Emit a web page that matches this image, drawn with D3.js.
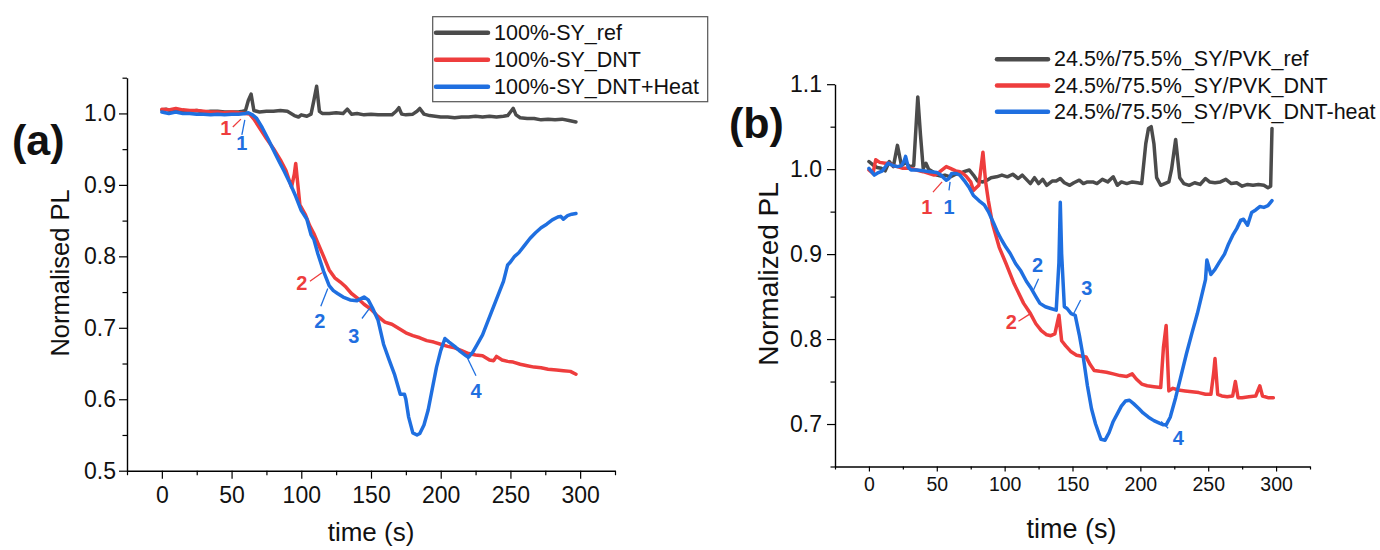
<!DOCTYPE html>
<html><head><meta charset="utf-8">
<script src="https://cdn.jsdelivr.net/npm/d3@7"></script>
<style>
body{margin:0;background:#fff;}
svg{display:block;}
text{font-family:"Liberation Sans",Arial,Helvetica,sans-serif;}
</style>
</head><body>
<svg id="c" width="1380" height="550"></svg>
<script>
// ---------- DATA: panel (a) ----------
const timeA_ref = [0,3,6,10,15,20,25,30,35,40,45,50,55,58,60,62,64,66,70,75,80,85,90,95,98,100,104,107,109,111,113,115,120,125,130,133,136,140,145,150,155,160,165,168,170,172,175,180,183,185,188,192,196,200,205,210,215,220,225,230,235,240,245,248,250,252,254,257,262,267,272,277,282,287,292,297];
const valA_ref  = [1.005,1.006,1.004,1.004,1.003,1.003,1.004,1.002,1.003,1.003,1.002,1.002,1.002,1.003,1.004,1.018,1.027,1.004,1.002,1.003,1.003,1.004,1.003,0.997,0.995,0.998,0.996,0.999,1.018,1.038,1.003,1.0,1.0,1.001,1.0,1.006,0.999,1.0,0.998,0.999,0.998,0.998,0.998,1.003,1.008,0.999,0.998,0.999,1.003,1.007,0.999,0.997,0.996,0.995,0.995,0.994,0.995,0.995,0.996,0.995,0.996,0.995,0.996,0.997,1.002,1.007,0.998,0.994,0.993,0.993,0.991,0.992,0.991,0.992,0.990,0.988];

const timeA_dnt = [0,5,10,15,20,25,30,35,40,45,50,55,60,63,66,70,75,80,85,89,93,95,96,99,103,106,109,112,116,120,124,128,132,136,140,145,150,155,160,165,170,175,180,185,190,195,200,205,210,215,220,225,230,235,238,240,244,248,252,257,262,267,272,277,283,288,293,297];
const valA_dnt  = [1.006,1.005,1.007,1.005,1.004,1.004,1.003,1.002,1.002,1.001,1.002,1.001,1.0,0.999,0.992,0.980,0.965,0.951,0.935,0.920,0.897,0.915,0.930,0.872,0.858,0.843,0.832,0.818,0.800,0.781,0.770,0.764,0.757,0.748,0.742,0.733,0.726,0.716,0.708,0.705,0.699,0.693,0.689,0.686,0.682,0.680,0.677,0.674,0.672,0.668,0.664,0.662,0.661,0.655,0.654,0.660,0.655,0.653,0.652,0.649,0.647,0.645,0.644,0.642,0.641,0.640,0.639,0.635];

const timeA_heat = [0,5,10,15,20,25,30,35,40,45,50,55,60,62,65,68,72,76,80,84,88,92,96,100,104,107,109,112,116,120,123,126,130,135,140,145,148,151,155,159,163,167,171,174,175,177,180,183,185,188,191,194,197,200,203,206,210,214,218,220,223,226,230,233,237,241,245,248,250,253,256,260,264,268,272,276,280,284,286,288,291,294,297];
const valA_heat  = [1.002,1.0,1.002,1.0,1.0,0.999,0.999,0.998,0.999,0.998,0.999,0.999,1.0,1.001,0.998,0.993,0.980,0.965,0.949,0.933,0.918,0.902,0.884,0.864,0.852,0.830,0.824,0.803,0.779,0.759,0.752,0.748,0.743,0.739,0.738,0.743,0.739,0.728,0.711,0.677,0.655,0.634,0.607,0.607,0.600,0.575,0.553,0.550,0.552,0.564,0.585,0.615,0.645,0.668,0.685,0.680,0.674,0.667,0.661,0.659,0.666,0.676,0.690,0.705,0.725,0.745,0.765,0.788,0.792,0.800,0.805,0.815,0.825,0.833,0.840,0.845,0.851,0.855,0.856,0.852,0.857,0.859,0.860];

// ---------- DATA: panel (b) ----------
const timeB_ref = [0,3,6,9,12,15,18,21,24,27,30,33,36,38,40,42,44,47,50,53,56,60,64,67,70,74,77,80,84,87,90,94,98,102,106,110,113,116,119,122,125,128,131,135,138,141,144,148,151,155,158,161,165,168,172,176,180,183,186,190,194,198,201,204,206,208,210,212,215,218,221,223,226,229,232,236,240,244,248,251,255,259,263,267,271,275,279,283,287,291,294,296,297];
const valB_ref  = [1.009,1.005,1.002,1.001,0.998,1.009,1.003,1.028,1.004,1.008,1.003,1.004,1.085,1.040,1.001,1.007,1.000,0.997,0.993,0.992,0.993,0.991,0.994,0.995,0.997,0.999,0.993,0.986,0.985,0.987,0.990,0.991,0.993,0.991,0.994,0.989,0.993,0.988,0.983,0.990,0.983,0.988,0.981,0.986,0.986,0.989,0.984,0.981,0.984,0.987,0.983,0.985,0.985,0.983,0.988,0.985,0.991,0.981,0.985,0.983,0.985,0.984,0.983,1.030,1.048,1.050,1.030,0.990,0.981,0.983,0.985,1.000,1.035,0.990,0.983,0.981,0.984,0.982,0.989,0.985,0.984,0.985,0.988,0.983,0.984,0.980,0.982,0.981,0.982,0.981,0.978,0.980,1.048];

const timeB_dnt = [0,3,5,8,12,15,18,21,25,30,35,40,44,48,50,53,57,60,64,67,70,72,75,77,79,81,84,86,88,91,96,101,107,114,119,123,127,131,134,137,140,142,145,149,153,156,160,163,166,170,175,180,185,190,194,197,201,205,210,215,217,219,221,224,228,233,238,243,248,252,254,255,257,260,264,268,270,272,275,280,285,288,290,294,298];
const valB_dnt  = [0.999,0.995,1.011,1.008,1.007,1.007,1.004,1.003,1.001,1.001,0.999,0.997,0.995,0.993,0.994,0.998,1.003,1.001,0.998,0.997,0.994,0.991,0.985,0.975,0.978,0.981,1.020,0.985,0.963,0.936,0.908,0.889,0.865,0.842,0.830,0.818,0.810,0.805,0.804,0.806,0.828,0.798,0.792,0.785,0.781,0.780,0.779,0.770,0.763,0.762,0.761,0.759,0.757,0.756,0.759,0.753,0.747,0.745,0.744,0.743,0.790,0.816,0.739,0.742,0.740,0.739,0.738,0.737,0.735,0.735,0.760,0.777,0.735,0.733,0.732,0.733,0.750,0.731,0.731,0.732,0.733,0.745,0.733,0.731,0.731];

const timeB_heat = [0,2,4,7,10,14,18,21,24,26,27,29,31,35,40,45,50,53,57,59,61,64,67,71,74,77,81,85,88,92,95,98,101,104,108,112,116,119,123,126,130,134,138,140,141,142,144,146,149,152,155,158,161,164,167,171,174,177,180,183,186,189,192,195,199,202,206,210,214,217,219,222,226,230,234,238,242,245,248,249,252,255,258,262,265,268,271,274,276,279,282,285,288,291,294,297];
const valB_heat  = [1.001,0.997,0.993,0.996,0.998,1.007,1.004,1.003,1.004,1.010,1.015,1.002,0.999,0.999,0.998,0.997,0.996,0.993,0.987,0.989,0.995,0.995,0.993,0.985,0.978,0.969,0.963,0.958,0.950,0.936,0.925,0.916,0.908,0.901,0.889,0.880,0.868,0.861,0.850,0.842,0.838,0.836,0.834,0.890,0.961,0.900,0.838,0.836,0.830,0.828,0.805,0.778,0.745,0.718,0.700,0.682,0.681,0.690,0.703,0.712,0.721,0.727,0.728,0.724,0.718,0.713,0.708,0.704,0.701,0.699,0.699,0.708,0.731,0.757,0.783,0.807,0.830,0.850,0.870,0.893,0.876,0.882,0.890,0.900,0.912,0.922,0.930,0.940,0.941,0.934,0.949,0.952,0.956,0.955,0.957,0.963];

// ---------- ticks & labels ----------
const xTicks = [0,50,100,150,200,250,300];
const xMinor = [-25,25,75,125,175,225,275,325];
const yTicksA = [0.5,0.6,0.7,0.8,0.9,1.0];
const yMinorA = [0.55,0.65,0.75,0.85,0.95,1.05];
const yTicksB = [0.7,0.8,0.9,1.0,1.1];
const yMinorB = [0.65,0.75,0.85,0.95,1.05];
const legendA = ["100%-SY_ref","100%-SY_DNT","100%-SY_DNT+Heat"];
const legendB = ["24.5%/75.5%_SY/PVK_ref","24.5%/75.5%_SY/PVK_DNT","24.5%/75.5%_SY/PVK_DNT-heat"];

// annotation labels: [text, seriesIndex, labelT, labelV, lineT1, lineV1, lineT2, lineV2]
const notesA = [
  ["1",1,45.9,0.979,50.9,0.981,56.7,0.992],
  ["1",2,57.4,0.958,57.4,0.970,59.5,0.991],
  ["2",1,100.4,0.762,106.2,0.765,114.8,0.777],
  ["2",2,113.3,0.710,114.0,0.730,119.0,0.755],
  ["3",2,137.7,0.689,143.5,0.713,149.2,0.728],
  ["4",2,225.3,0.611,225.3,0.633,218.8,0.659]
];
const notesB = [
  ["1",1,42.7,0.956,47.2,0.973,53.9,0.985],
  ["1",2,59.0,0.956,59.0,0.975,59.8,0.985],
  ["2",2,124.2,0.887,125.0,0.871,120.5,0.855],
  ["2",1,105.0,0.820,110.2,0.821,119.0,0.830],
  ["3",2,160.5,0.860,156.0,0.846,150.9,0.830],
  ["4",2,228.0,0.684,220.5,0.695,215.3,0.703]
];

const colors = ["#4b4b4b","#ee3d3d","#1f6fe0"];
const svg = d3.select("#c");

function drawPanel(cfg){
  const x = d3.scaleLinear().domain([-25,325]).range([cfg.x0,cfg.x1]);
  const y = d3.scaleLinear().domain(cfg.yDomain).range([cfg.y1,cfg.y0]);
  const g = svg.append("g");

  // minor ticks
  g.append("g").attr("transform",`translate(0,${cfg.y1})`)
    .call(d3.axisBottom(x).tickValues(xMinor).tickSize(cfg.xMinorLen).tickFormat(""))
    .call(a=>a.select(".domain").remove());
  g.append("g").attr("transform",`translate(${cfg.x0},0)`)
    .call(d3.axisLeft(y).tickValues(cfg.yMinor).tickSize(4.5).tickFormat(""))
    .call(a=>a.select(".domain").remove());

  const xa = g.append("g").attr("transform",`translate(0,${cfg.y1})`)
    .call(d3.axisBottom(x).tickValues(xTicks).tickSize(cfg.xMajorLen).tickPadding(cfg.xPad).tickSizeOuter(0).tickFormat(d3.format("d")));
  xa.selectAll("text").style("font-size",cfg.xFont+"px").attr("fill","#111");
  const ya = g.append("g").attr("transform",`translate(${cfg.x0},0)`)
    .call(d3.axisLeft(y).tickValues(cfg.yTicks).tickSize(8).tickPadding(cfg.yPad).tickSizeOuter(0).tickFormat(d3.format(".1f")));
  ya.selectAll("text").style("font-size",cfg.yFont+"px").attr("fill","#111");
  g.selectAll(".domain").attr("stroke","#000").attr("stroke-width",1.4);
  g.selectAll(".tick line").attr("stroke","#000").attr("stroke-width",1.2);

  const line = d3.line().x(d=>x(d[0])).y(d=>y(d[1]));
  cfg.series.forEach((s,i)=>{
    const pts = s[0].map((t,k)=>[t,s[1][k]]);
    g.append("path").datum(pts).attr("d",line).attr("fill","none")
      .attr("stroke",colors[i]).attr("stroke-width",3.5).attr("stroke-linejoin","round").attr("stroke-linecap","round");
  });

  cfg.notes.forEach(n=>{
    g.append("line").attr("x1",x(n[4])).attr("y1",y(n[5])).attr("x2",x(n[6])).attr("y2",y(n[7]))
      .attr("stroke",colors[n[1]]).attr("stroke-width",1.3);
    g.append("text").attr("x",x(n[2])).attr("y",y(n[3])).attr("text-anchor","middle")
      .attr("dominant-baseline","central").style("font-size","20px").style("font-weight","bold")
      .attr("fill",colors[n[1]]).text(n[0]);
  });

  // axis titles
  g.append("text").attr("x",(cfg.x0+cfg.x1)/2+cfg.xTitleDx).attr("y",cfg.xTitleY).attr("text-anchor","middle")
    .style("font-size",cfg.xTitleFont+"px").attr("fill","#111").text("time (s)");
  g.append("text").attr("transform",`translate(${cfg.yTitleX},${cfg.yTitleY}) rotate(-90)`).attr("text-anchor","middle")
    .attr("dominant-baseline","central").style("font-size",cfg.yTitleFont+"px").attr("fill","#111").text(cfg.yTitle);
  g.append("text").attr("x",cfg.tagX).attr("y",cfg.tagY).style("font-size","43px").style("font-weight","bold")
    .attr("fill","#111").text(cfg.tag);

  // legend
  const lg = g.append("g");
  if(cfg.legendBox){
    lg.append("rect").attr("x",cfg.legendBox[0]).attr("y",cfg.legendBox[1]).attr("width",cfg.legendBox[2]).attr("height",cfg.legendBox[3])
      .attr("fill","#fff").attr("stroke","#555").attr("stroke-width",1.2);
  }
  cfg.legend.forEach((lab,i)=>{
    const yy = cfg.legY0 + i*cfg.legDy;
    lg.append("line").attr("x1",cfg.legX).attr("x2",cfg.legX+cfg.legLen).attr("y1",yy).attr("y2",yy)
      .attr("stroke",colors[i]).attr("stroke-width",4.5).attr("stroke-linecap","round");
    lg.append("text").attr("x",cfg.legX+cfg.legLen+6).attr("y",yy).attr("dominant-baseline","central")
      .style("font-size","21.5px").attr("fill","#111").text(lab);
  });
}

drawPanel({
  x0:127, x1:615, y0:77.7, y1:470.7, yDomain:[0.5,1.05],
  yTicks:yTicksA, yMinor:yMinorA, xMajorLen:8, xMinorLen:4.5, xPad:8, yPad:3, xFont:23, yFont:23,
  series:[[timeA_ref,valA_ref],[timeA_dnt,valA_dnt],[timeA_heat,valA_heat]],
  notes:notesA, xTitleDx:0, xTitleY:541, xTitleFont:26,
  yTitle:"Normalised PL", yTitleX:60, yTitleY:273, yTitleFont:25.5,
  tag:"(a)", tagX:12, tagY:155,
  legend:legendA, legendBox:[432.7,16.7,275,85], legX:436, legLen:52, legY0:32.7, legDy:27
});
drawPanel({
  x0:835, x1:1310, y0:84.2, y1:466.5, yDomain:[0.65,1.1],
  yTicks:yTicksB, yMinor:yMinorB, xMajorLen:5, xMinorLen:3, xPad:6, yPad:5, xFont:19.5, yFont:23,
  series:[[timeB_ref,valB_ref],[timeB_dnt,valB_dnt],[timeB_heat,valB_heat]],
  notes:notesB, xTitleDx:-1, xTitleY:538, xTitleFont:27,
  yTitle:"Normalized PL", yTitleX:768, yTitleY:274, yTitleFont:28,
  tag:"(b)", tagX:729, tagY:138,
  legend:legendB, legendBox:null, legX:997, legLen:51, legY0:59.3, legDy:26.2
});
</script>
</body></html>
